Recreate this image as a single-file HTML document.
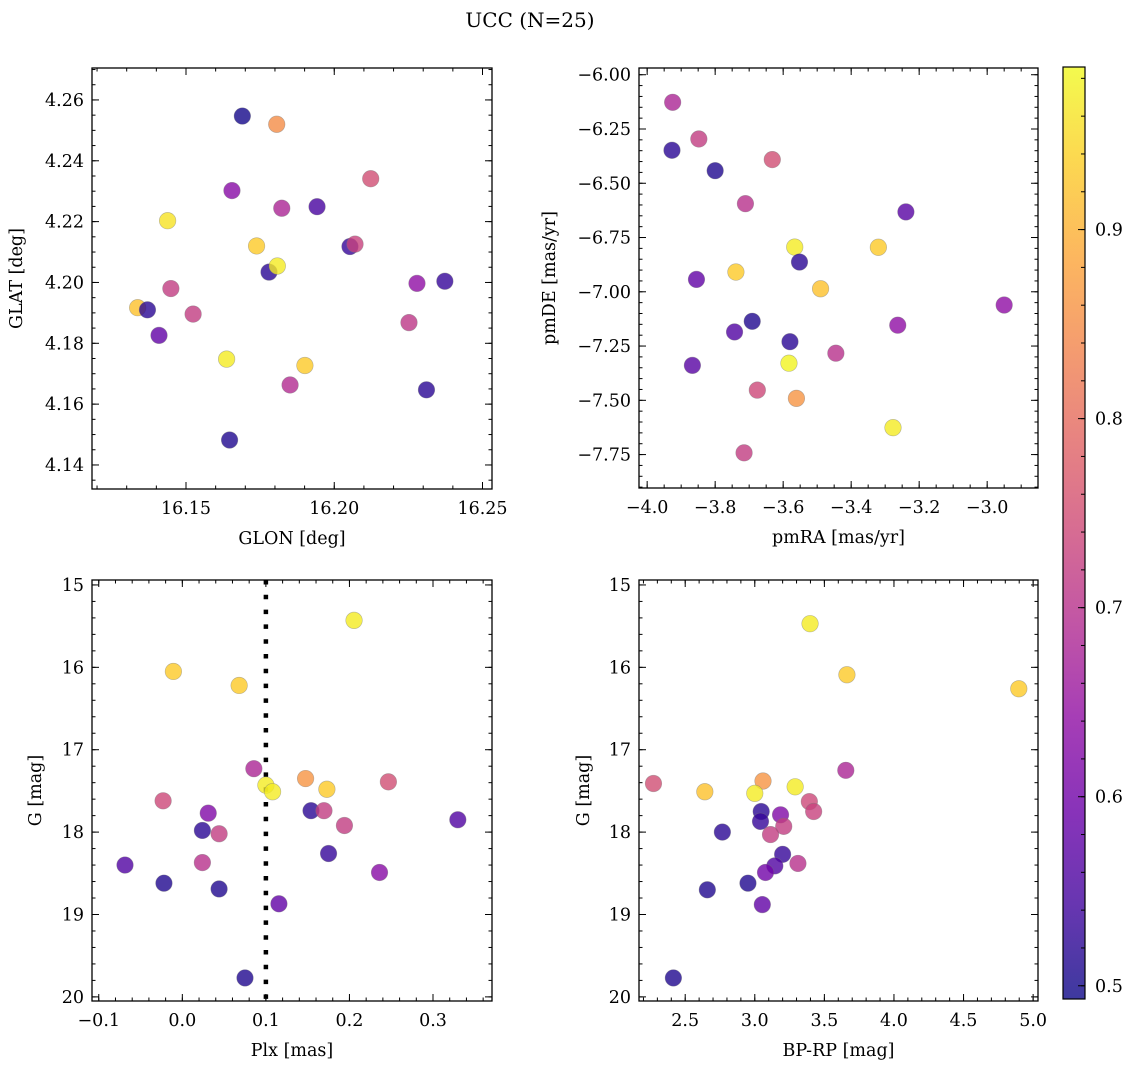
<!DOCTYPE html>
<html><head><meta charset="utf-8"><style>
html,body{margin:0;padding:0;background:#fff;}
svg{display:block;font-family:"DejaVu Serif","Liberation Serif",serif;}
</style></head><body>
<svg id="fig" width="1135" height="1067" viewBox="0 0 1135 1067" xmlns="http://www.w3.org/2000/svg">
<defs>
<linearGradient id="plasma" x1="0" y1="1" x2="0" y2="0">
<stop offset="0" stop-color="#0d0887"/><stop offset="0.1" stop-color="#41049d"/><stop offset="0.2" stop-color="#6a00a8"/><stop offset="0.3" stop-color="#8f0da4"/><stop offset="0.4" stop-color="#b12a90"/><stop offset="0.5" stop-color="#cc4778"/><stop offset="0.6" stop-color="#e16462"/><stop offset="0.7" stop-color="#f2844b"/><stop offset="0.8" stop-color="#fca636"/><stop offset="0.9" stop-color="#fcce25"/><stop offset="1" stop-color="#f0f921"/>
</linearGradient>
</defs>
<text x="530" y="27" font-size="20" text-anchor="middle">UCC (N=25)</text>
</svg>
<script>
// ---- Panel 1: GLON / GLAT ----
const glon = [16.169,16.1806,16.2123,16.1655,16.1823,16.1942,16.1438,16.1738,16.2053,16.2070,16.1780,16.1808,16.2279,16.2373,16.1449,16.1337,16.1370,16.1524,16.1409,16.2252,16.1637,16.1901,16.1851,16.2311,16.1647];
const glat = [4.2547,4.2520,4.2341,4.2302,4.2244,4.2249,4.2203,4.2120,4.2118,4.2126,4.2034,4.2054,4.1997,4.2004,4.1980,4.1917,4.1910,4.1896,4.1826,4.1868,4.1748,4.1727,4.1663,4.1647,4.1482];
const prob1 = [0.5,0.85,0.75,0.63,0.68,0.55,0.96,0.93,0.53,0.73,0.52,0.97,0.64,0.53,0.72,0.92,0.52,0.72,0.58,0.71,0.97,0.93,0.69,0.52,0.51];
// ---- Panel 2: pmRA / pmDE ----
const pmra = [-3.925,-3.848,-3.927,-3.632,-3.800,-3.711,-3.239,-3.566,-3.320,-3.552,-3.739,-3.855,-3.490,-2.950,-3.691,-3.263,-3.743,-3.580,-3.445,-3.583,-3.867,-3.676,-3.561,-3.277,-3.715];
const pmde = [-6.127,-6.296,-6.348,-6.391,-6.442,-6.594,-6.632,-6.794,-6.795,-6.863,-6.909,-6.943,-6.986,-7.061,-7.136,-7.154,-7.185,-7.230,-7.283,-7.329,-7.339,-7.453,-7.491,-7.626,-7.742];
const prob2 = [0.68,0.72,0.52,0.75,0.51,0.7,0.57,0.97,0.93,0.52,0.93,0.58,0.92,0.64,0.51,0.64,0.56,0.52,0.7,0.98,0.57,0.74,0.86,0.97,0.72];
// ---- Panel 3: Plx / G ----
const plx = [0.2055,-0.0107,0.068,0.0856,0.1475,0.1,0.108,0.173,0.2466,-0.023,0.031,0.154,0.1695,0.024,0.044,0.194,0.3297,0.175,-0.0686,0.024,0.236,-0.022,0.044,0.1156,0.075];
const gmag3 = [15.43,16.05,16.22,17.23,17.35,17.43,17.51,17.48,17.39,17.62,17.77,17.74,17.74,17.98,18.02,17.92,17.85,18.26,18.40,18.37,18.49,18.62,18.69,18.87,19.77];
const prob3 = [0.97,0.93,0.93,0.68,0.86,0.97,0.97,0.93,0.75,0.74,0.62,0.52,0.72,0.52,0.72,0.72,0.56,0.53,0.56,0.7,0.63,0.51,0.51,0.58,0.51];
const plxCut = [0.1];
// ---- Panel 4: BP-RP / G ----
const bprp = [3.397,3.662,4.897,3.654,2.272,3.059,2.641,3.290,3.0,3.392,3.423,3.046,3.185,3.041,3.208,2.767,3.113,3.200,3.144,3.310,3.077,2.951,2.659,3.054,2.415];
const gmag4 = [15.47,16.09,16.26,17.25,17.41,17.38,17.51,17.45,17.53,17.63,17.75,17.75,17.79,17.87,17.93,18.0,18.03,18.27,18.41,18.38,18.49,18.62,18.70,18.88,19.77];
const prob4 = [0.97,0.93,0.93,0.68,0.75,0.86,0.92,0.97,0.97,0.74,0.73,0.52,0.62,0.53,0.72,0.52,0.72,0.53,0.56,0.7,0.6,0.51,0.51,0.58,0.51];
// ---- Tick labels ----
const ticks1x = [16.15,16.20,16.25];
const ticks1y = [4.14,4.16,4.18,4.20,4.22,4.24,4.26];
const ticks2x = [-4.0,-3.8,-3.6,-3.4,-3.2,-3.0];
const ticks2y = [-6.00,-6.25,-6.50,-6.75,-7.00,-7.25,-7.50,-7.75];
const ticks3x = [-0.1,0.0,0.1,0.2,0.3];
const ticksG = [15,16,17,18,19,20];
const ticks4x = [2.5,3.0,3.5,4.0,4.5,5.0];
const ticksCb = [0.5,0.6,0.7,0.8,0.9];

const NS="http://www.w3.org/2000/svg";
const svg=document.getElementById('fig');
function el(tag,attrs,parent){const e=document.createElementNS(NS,tag);for(const k in attrs)e.setAttribute(k,attrs[k]);(parent||svg).appendChild(e);return e;}
const stops=[[13,8,135],[65,4,157],[106,0,168],[143,13,164],[177,42,144],[204,71,120],[225,100,98],[242,132,75],[252,166,54],[252,206,37],[240,249,33]];
const vmin=0.493,vmax=0.986;
function plasma(v){let t=(v-vmin)/(vmax-vmin);t=Math.max(0,Math.min(1,t));const f=t*10,i=Math.min(9,Math.floor(f)),r=f-i;const a=stops[i],b=stops[i+1];return 'rgb('+a.map((c,k)=>Math.round(c+(b[k]-c)*r)).join(',')+')';}
function fmt(v,d){const s=Math.abs(v).toFixed(d);return (v<-1e-9?'\u2212':'')+s;}
const FS=17.5;

function panel(cfg){
  const g=el('g',{});
  
  
  const {L,R,T,B,x0,x1,y0,y1}=cfg;
  const sx=v=>L+(v-x0)/(x1-x0)*(R-L);
  const sy=v=>cfg.invert? T+(v-y0)/(y1-y0)*(B-T) : B-(v-y0)/(y1-y0)*(B-T);
  const tg=el('g',{stroke:'#000','stroke-width':1},g);
  
  
  const lo=Math.min(x0,x1),hi=Math.max(x0,x1);
  for(let v=Math.ceil(lo/cfg.xminor-1e-6)*cfg.xminor;v<=hi+1e-9;v+=cfg.xminor){const x=sx(v);el('line',{x1:x,x2:x,y1:B,y2:B-3.5},tg);el('line',{x1:x,x2:x,y1:T,y2:T+3.5},tg);}
  const ylo=Math.min(y0,y1),yhi=Math.max(y0,y1);
  for(let v=Math.ceil(ylo/cfg.yminor-1e-6)*cfg.yminor;v<=yhi+1e-9;v+=cfg.yminor){const y=sy(v);el('line',{x1:L,x2:L+3.5,y1:y,y2:y},tg);el('line',{x1:R,x2:R-3.5,y1:y,y2:y},tg);}
  cfg.xt.forEach(v=>{const x=sx(v);el('line',{x1:x,x2:x,y1:B,y2:B-7},tg);el('line',{x1:x,x2:x,y1:T,y2:T+7},tg);
    const t=el('text',{x:x,y:B+25,'font-size':FS,'text-anchor':'middle'},g);t.textContent=fmt(v,cfg.xd);
    
    });
  cfg.yt.forEach(v=>{const y=sy(v);el('line',{x1:L,x2:L+7,y1:y,y2:y},tg);el('line',{x1:R,x2:R-7,y1:y,y2:y},tg);
    const t=el('text',{x:L-8,y:y+6,'font-size':FS,'text-anchor':'end'},g);t.textContent=fmt(v,cfg.yd);
    
    });
  if(cfg.vline){cfg.vline.forEach(v=>{const l=el('line',{x1:sx(v),x2:sx(v),y1:T,y2:B,stroke:'#000','stroke-width':4.5,'stroke-dasharray':'4.5,10.3'},g);
    
    });}
  const pg=el('g',{},g);
  
  
  cfg.xs.forEach((xv,i)=>{const c=el('circle',{cx:sx(xv),cy:sy(cfg.ys[i]),r:8.3,fill:plasma(cfg.cs[i]),'fill-opacity':0.8,stroke:'#777','stroke-opacity':0.5,'stroke-width':0.6},pg);
    
    });
  const box=el('rect',{x:L,y:T,width:R-L,height:B-T,fill:'none',stroke:'#000','stroke-width':1.3},g);
  
  
  const xl=el('text',{x:(L+R)/2,y:B+55,'font-size':17.5,'text-anchor':'middle'},g);xl.textContent=cfg.xlab;
  
  
  const yx=cfg.ylx;const yl=el('text',{x:yx,y:(T+B)/2,'font-size':17.5,'text-anchor':'middle',transform:'rotate(-90 '+yx+' '+(T+B)/2+')'},g);yl.textContent=cfg.ylab;
  
  
}
panel({name:'glon-glat-panel',L:92,R:492,T:68,B:489,x0:16.1183,x1:16.2532,y0:4.1321,y1:4.2705,xminor:0.01,yminor:0.005,xt:ticks1x,yt:ticks1y,xd:2,yd:2,xs:glon,ys:glat,cs:prob1,xlab:'GLON [deg]',ylab:'GLAT [deg]',ylx:22});
panel({name:'proper-motion-panel',L:639,R:1038,T:68,B:488,x0:-4.024,x1:-2.8505,y0:-7.904,y1:-5.969,xminor:0.05,yminor:0.05,xt:ticks2x,yt:ticks2y,xd:1,yd:2,xs:pmra,ys:pmde,cs:prob2,xlab:'pmRA [mas/yr]',ylab:'pmDE [mas/yr]',ylx:555});
panel({name:'parallax-panel',L:92,R:492,T:580,B:1001,x0:-0.1081,x1:0.3706,y0:14.94,y1:20.05,invert:true,xminor:0.02,yminor:0.2,xt:ticks3x,yt:ticksG,xd:1,yd:0,xs:plx,ys:gmag3,cs:prob3,xlab:'Plx [mas]',ylab:'G [mag]',ylx:41,vline:plxCut});
panel({name:'cmd-panel',L:639,R:1038,T:580,B:1001,x0:2.168,x1:5.035,y0:14.94,y1:20.05,invert:true,xminor:0.1,yminor:0.2,xt:ticks4x,yt:ticksG,xd:1,yd:0,xs:bprp,ys:gmag4,cs:prob4,xlab:'BP-RP [mag]',ylab:'G [mag]',ylx:589});

// colorbar
const cb=el('g',{});


const CT=67,CB=999,CL=1063,CR=1085;
el('rect',{x:CL,y:CT,width:CR-CL,height:CB-CT,fill:'url(#plasma)','fill-opacity':0.8},cb);
el('rect',{x:CL,y:CT,width:CR-CL,height:CB-CT,fill:'none',stroke:'#000','stroke-width':1.2},cb);
const cy=v=>CB-(v-vmin)/(vmax-vmin)*(CB-CT);
for(let v=0.50;v<=vmax+1e-9;v+=0.02){el('line',{x1:CR,x2:CR-4,y1:cy(v),y2:cy(v),stroke:'#000','stroke-width':1},cb);}
ticksCb.forEach(v=>{el('line',{x1:CR,x2:CR-7,y1:cy(v),y2:cy(v),stroke:'#000','stroke-width':1},cb);
  const t=el('text',{x:CR+10,y:cy(v)+6,'font-size':FS},cb);t.textContent=v.toFixed(1);
  
  });
</script>
</body></html>
